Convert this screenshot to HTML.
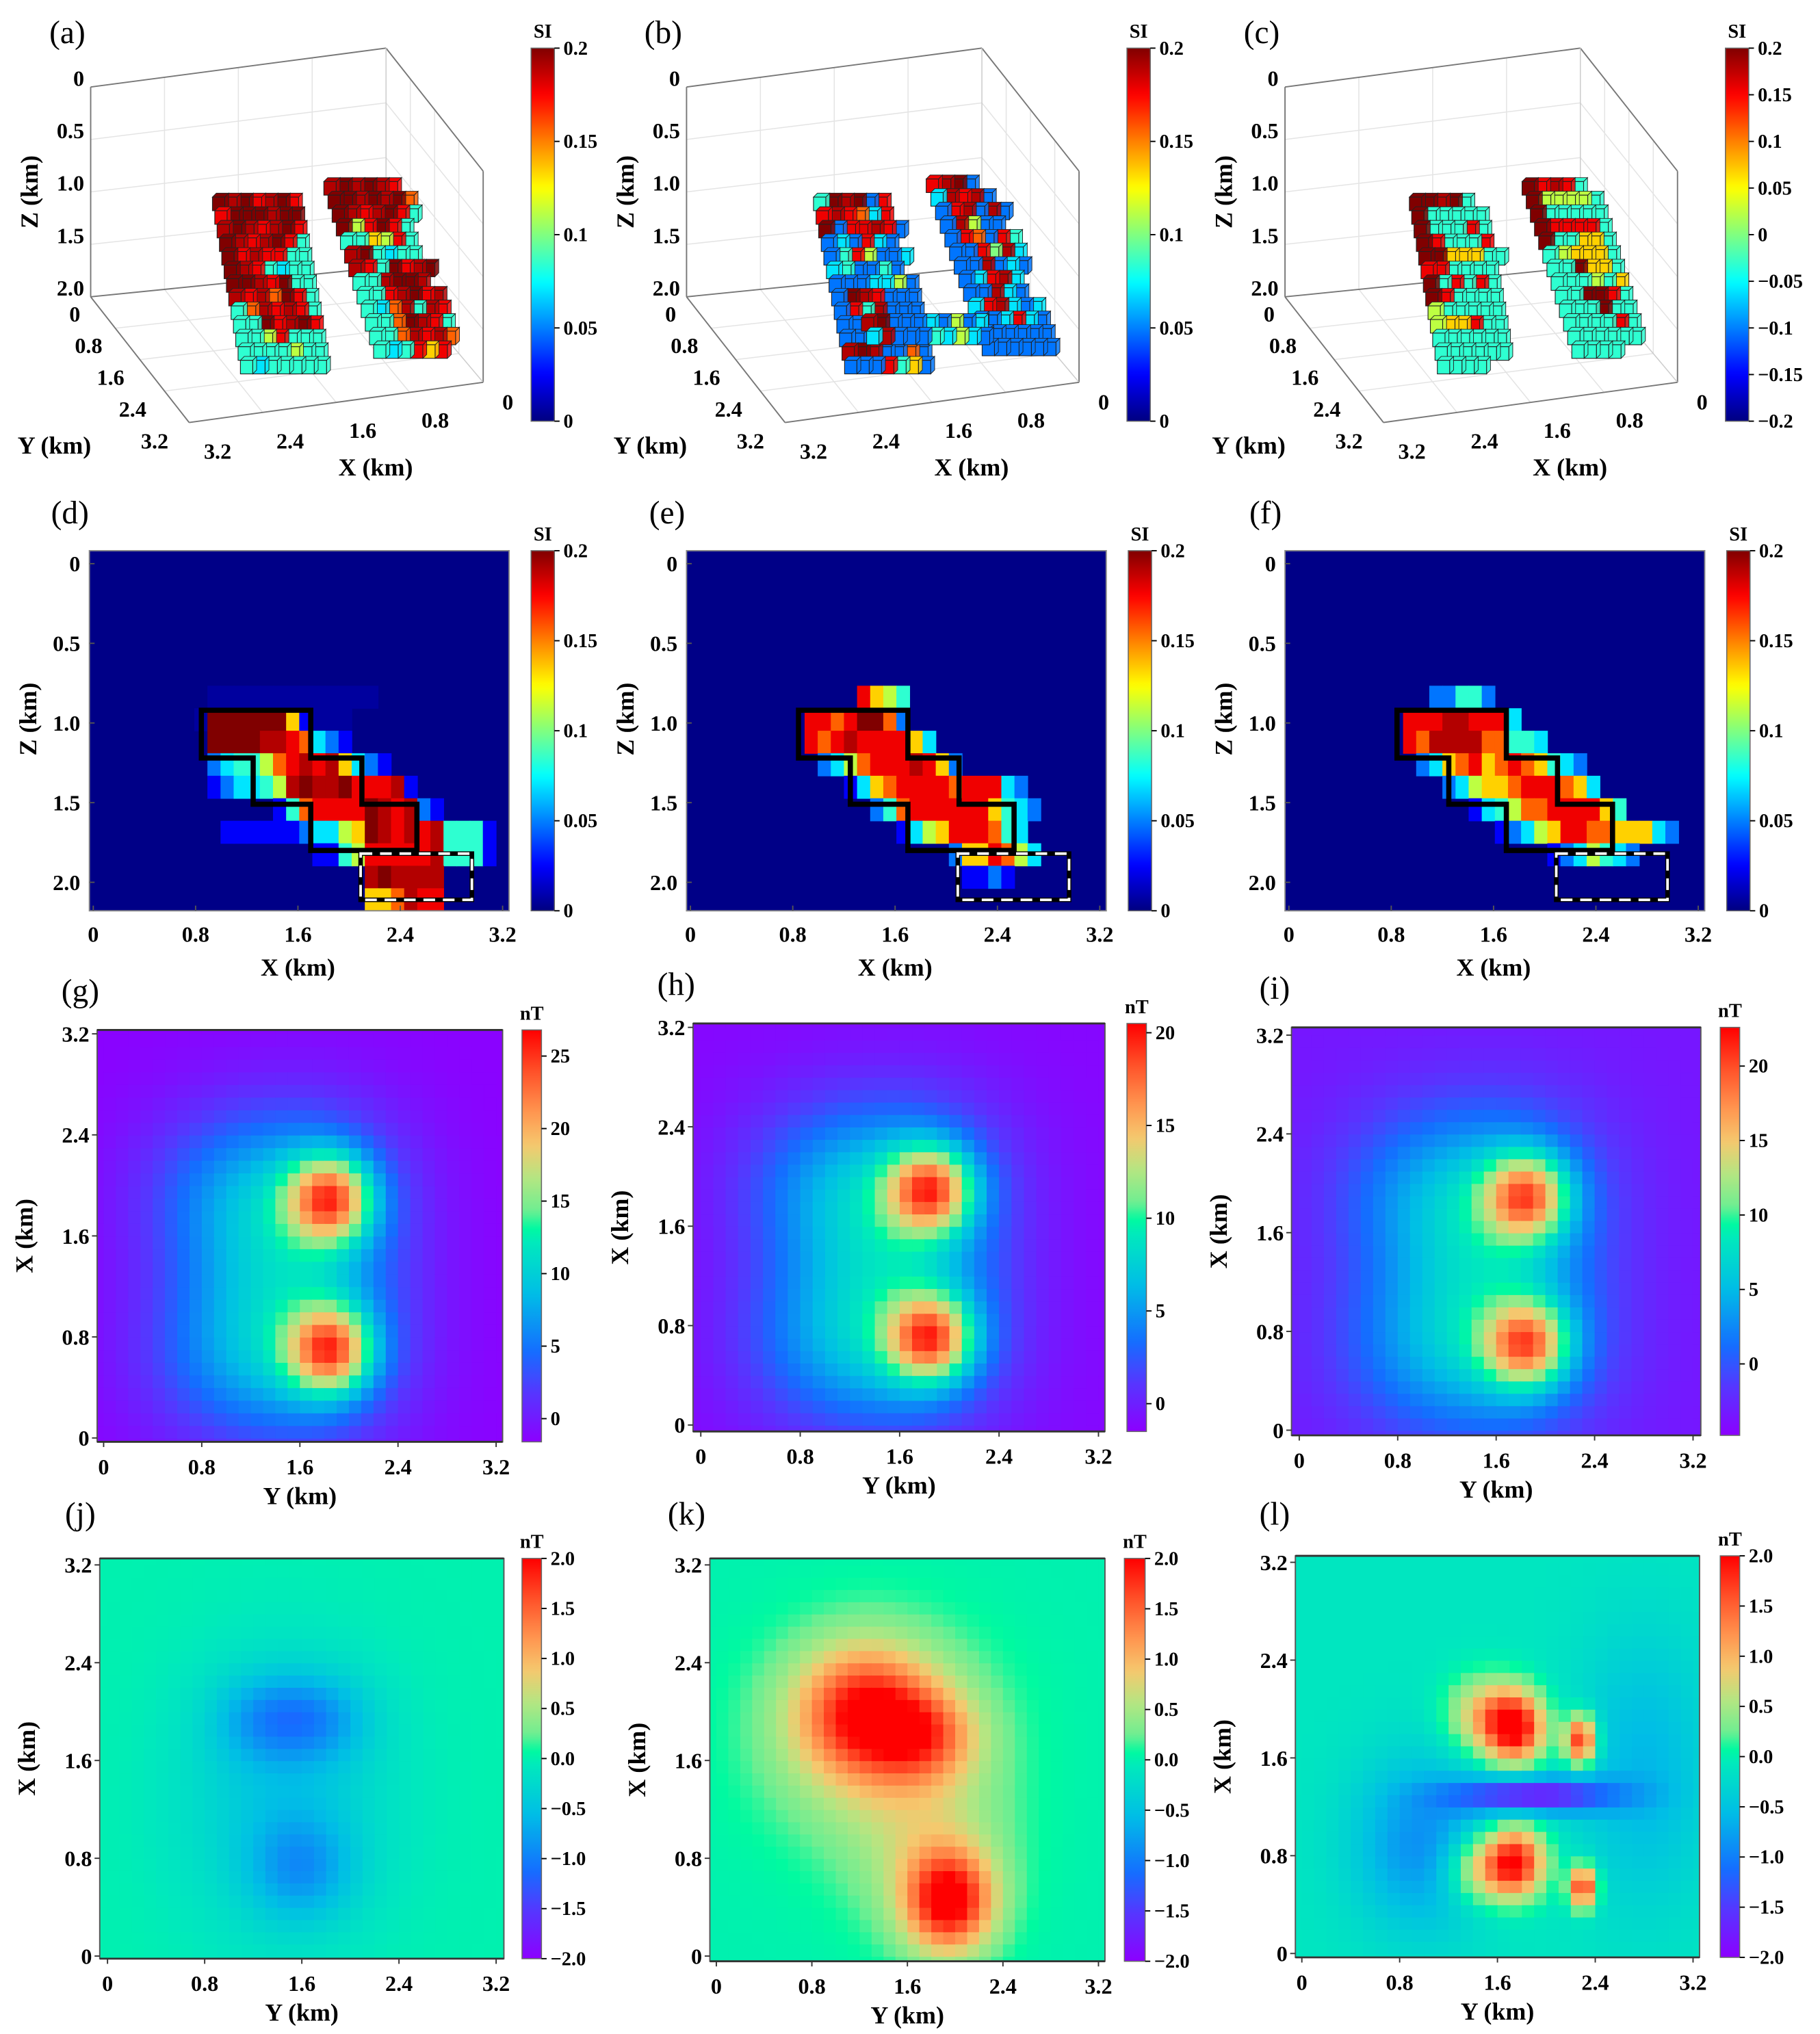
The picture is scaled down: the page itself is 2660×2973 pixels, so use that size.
<!DOCTYPE html>
<html><head><meta charset="utf-8">
<style>
html,body{margin:0;padding:0;background:#fff;}
svg{display:block;}
text{font-family:"Liberation Serif","Times New Roman",serif;}
.tk{font-family:"Liberation Serif",serif;font-weight:bold;font-size:17px;}
.cbt{font-family:"Liberation Serif",serif;font-weight:bold;font-size:15px;}
.at{font-family:"Liberation Serif",serif;font-weight:bold;font-size:19px;}
.pl{font-family:"Liberation Serif",serif;font-size:25px;}
</style></head>
<body>
<svg id="fig" width="2660" height="2973" viewBox="0 0 1405 1570" xmlns="http://www.w3.org/2000/svg">
<defs id="defs"></defs>
</svg>
<script>
// ---------------- DATA ----------------
const secRowsD = ["", "", "", "", "", "", "9:0000000000000", "8:099999961000", "9:9999aa87321", "9:2344578a8a6321", "9:123345a9aa9888a1", "14:14788889a8a21", "10:111111233569a8a8a4441", "17:114588888a4441", "21:a9aaaa", "21:667a88"];
const secRowsE = ["", "", "", "", "", "", "13:8654", "9:88789972", "9:878a888863", "10:2357888a862", "12:13678888788832", "14:2478888886432", "16:1356888743", "20:2668753", "21:1121", ""];
const secRowsF = ["", "", "", "", "", "", "11:22442", "9:888aa8883", "9:87aaaa77443", "10:2367867876432", "12:235667888763", "14:134577888864", "16:12356887766632", "20:1235432", "", ""];
const sectionRows = [secRowsD, secRowsE, secRowsF];
const outlineX = [0.845, 1.70, 1.70, 2.10, 2.10, 2.53, 2.53, 2.10, 2.10, 1.70, 1.70, 1.25, 1.25, 0.845];
const outlineZ = [0.92, 0.92, 1.22, 1.22, 1.51, 1.51, 1.80, 1.80, 1.80, 1.80, 1.51, 1.51, 1.22, 1.22];
const boxX = [2.09, 2.96];
const boxZ = [1.82, 2.11];
const sectionXTicks = ["0", "0.8", "1.6", "2.4", "3.2"];
const sectionZTicks = ["0", "0.5", "1.0", "1.5", "2.0"];
const siTicks = ["0", "0.05", "0.1", "0.15", "0.2"];
const siTicksC = ["-0.2", "-0.15", "-0.1", "-0.05", "0", "0.05", "0.1", "0.15", "0.2"];

const gY = [1.85, 1.85, 1.75, 1.75, 1.0, 1.0, 1.3];
const gX = [1.9, 0.7, 1.9, 0.7, 1.95, 0.65, 1.3];
const gA = [17, 17, 7, 7, 5, 5, 3];
const gSy = [0.24, 0.24, 0.55, 0.55, 0.55, 0.55, 0.55];
const gSx = [0.24, 0.24, 0.55, 0.55, 0.5, 0.5, 0.6];
const gBg = -1.5;
const hA = [13, 13, 5.5, 5.5, 4, 4, 2.3];
const hBg = -1.2;
const iA = [15, 15, 6.3, 6.3, 4.5, 4.5, 2.7];
const iBg = -3.5;
const jY = [1.3, 1.75, 1.6, 1.45];
const jX = [1.95, 1.95, 0.72, 1.3];
const jA = [-0.55, -0.55, -0.6, -0.45];
const jSy = [0.3, 0.3, 0.3, 0.6];
const jSx = [0.25, 0.25, 0.3, 0.8];
const jBg = 0.0;
const kY = [1.25, 1.75, 1.35, 1.95, 1.8];
const kX = [2.0, 1.8, 1.8, 0.45, 0.8];
const kA = [1.5, 0.9, 0.7, 1.9, 0.5];
const kSy = [0.38, 0.3, 0.65, 0.25, 0.45];
const kSx = [0.35, 0.25, 0.6, 0.28, 0.5];
const kBg = 0.0;
const lY = [1.75, 2.28, 1.5, 1.75, 2.3, 1.45, 1.9, 1.0, 2.8];
const lX = [1.85, 1.75, 1.95, 0.75, 0.55, 0.7, 1.3, 0.9, 1.5];
const lA = [2.0, 2.0, 1.0, 2.0, 2.0, 1.0, -1.7, -0.8, -0.5];
const lSy = [0.17, 0.09, 0.22, 0.17, 0.08, 0.2, 0.45, 0.4, 0.4];
const lSx = [0.2, 0.14, 0.22, 0.2, 0.12, 0.2, 0.1, 0.5, 0.8];
const lBg = -0.1;
const mapTicks = ["0", "0.8", "1.6", "2.4", "3.2"];
const gCbTicks = ["0", "5", "10", "15", "20", "25"];
const hCbTicks = ["0", "5", "10", "15", "20"];
const rCbTicks = ["-2.0", "-1.5", "-1.0", "-0.5", "0.0", "0.5", "1.0", "1.5", "2.0"];

const vox = [
 [ {x:164,y:152,dx:1.8,rows:["9a98a98","8999a99","a9a8a98","9a8a984","98a8844","9a84344","99a8944","a8a7984","47a8a84","4498a98","4458444","4444544","4344444"]},
   {x:250,y:140,dx:3.2,rows:["a9a9a8","99a9a97","9a8a984","958984","446584","a94344","a8498a9","44a99a","448a98a","437a4a8","4479a84","447a8a7","434868"]} ],
 [ {x:628,y:152,dx:2.0,rows:["49a928","8a8738","928da82","232832","2485223","342242","2223352","29a8222","284a222","2229a22","222a322","a9a2272","2228462"]},
   {x:715,y:138,dx:3.6,rows:["8a92","3a8a2","28a2a2","2a522","287284","228ga3","22a232","238a3","22a32","38a323","223832","222222","222222"]},
   {x:665,y:245,dx:4,rows:["a922232523","3a22243532"]} ],
 [ {x:1088,y:152,dx:1.8,rows:["99a94","944444","944484","984448","9966644","884444","948484","984444","544444","566844","444444","444444","4444"]},
   {x:1175,y:140,dx:3.2,rows:["98a84","955554","944444","988884","944664","456664","449664","444546","449984","444944","444484","444444","4444"]} ]
];
const voxZTicks = ["0", "0.5", "1.0", "1.5", "2.0"];
const voxYTicks = ["0", "0.8", "1.6", "2.4", "3.2"];
const voxXTicks = ["3.2", "2.4", "1.6", "0.8", "0"];

// ---------------- HELPERS ----------------
const NS = "http://www.w3.org/2000/svg";
const svg = document.getElementById('fig');
const defs = document.getElementById('defs');
function mk(tag, attrs, parent){ const e = document.createElementNS(NS, tag); for (const k in attrs) e.setAttribute(k, attrs[k]); (parent||svg).appendChild(e); return e; }
function txt(s, x, y, cls, anchor, parent){ const t = mk('text', {x:x, y:y, class:cls, 'text-anchor':anchor||'start'}, parent); t.textContent = s; return t; }
function cl(v){ return Math.max(0, Math.min(1, v)); }
function jet(t){ t = cl(t); const r = cl(1.5-Math.abs(4*t-3)), g = cl(1.5-Math.abs(4*t-2)), b = cl(1.5-Math.abs(4*t-1)); return `rgb(${Math.round(r*255)},${Math.round(g*255)},${Math.round(b*255)})`; }
const rbStops = [[0,140,0,255],[0.12,85,55,255],[0.22,20,110,255],[0.36,0,190,230],[0.48,0,232,190],[0.52,0,250,160],[0.56,110,238,145],[0.64,180,230,130],[0.72,245,200,110],[0.8,255,150,80],[0.9,255,80,40],[1,255,0,0]];
function rainbow(t){ t = cl(t); for (let i = 1; i < rbStops.length; i++){ const a = rbStops[i-1], b = rbStops[i]; if (t <= b[0]){ const f = (t-a[0])/(b[0]-a[0]); return `rgb(${Math.round(a[1]+(b[1]-a[1])*f)},${Math.round(a[2]+(b[2]-a[2])*f)},${Math.round(a[3]+(b[3]-a[3])*f)})`; } } return 'rgb(255,0,0)'; }
const charVal = {'.':0,'0':0.03,'1':0.12,'2':0.24,'3':0.35,'4':0.42,'5':0.56,'6':0.67,'7':0.78,'8':0.89,'a':0.95,'9':1.0,'g':0.5,'d':0.9};
let gradId = 0;
function colorbar(x, y, w, h, cmap, ticks, tmin, tmax, title, name){
  const id = 'cbg' + (gradId++);
  const lg = mk('linearGradient', {id:id, x1:0, y1:1, x2:0, y2:0}, defs);
  for (let i = 0; i <= 60; i++) mk('stop', {offset:(i/60), 'stop-color':cmap(i/60)}, lg);
  const g = mk('g', {});
  
  
  mk('rect', {x:x, y:y, width:w, height:h, fill:`url(#${id})`, stroke:'#666', 'stroke-width':0.8}, g);
  ticks.forEach(s => {
    const v = parseFloat(s); const ty = y + h - (v - tmin)/(tmax - tmin)*h;
    mk('line', {x1:x+w, y1:ty, x2:x+w+4, y2:ty, stroke:'#000', 'stroke-width':1}, g);
    const t = txt(s.replace('-', '\u2212'), x+w+7, ty+5, 'cbt', 'start', g);
    
    
  });
  const tt = txt(title, x+w/2, y-8, 'cbt', 'middle', g);
  
  
}
function panelLabel(s, x, y){
  const t = txt(s, x, y, 'pl', 'middle');
  
  
}

// ---------------- ROW 1 ----------------
const offs3 = [0, 460, 922];
const labels3 = ['(a)', '(b)', '(c)'];
offs3.forEach((o, p) => {
  const g = mk('g', {});
  
  
  const A=[70+o,67], B=[298+o,37], C=[373+o,132], A2=[70+o,229], B2=[298+o,206], C2=[373+o,295], D2=[146+o,326];
  const L = (p1,p2,c,w) => mk('line', {x1:p1[0],y1:p1[1],x2:p2[0],y2:p2[1],stroke:c,'stroke-width':w}, g);
  const lerp = (p1,p2,t) => [p1[0]+(p2[0]-p1[0])*t, p1[1]+(p2[1]-p1[1])*t];
  for (let i = 1; i < 4; i++){ const t=i/4; L(lerp(A,A2,t), lerp(B,B2,t), '#e4e4e4', 0.8); L(lerp(B,B2,t), lerp(C,C2,t), '#e4e4e4', 0.8); }
  for (let i = 1; i < 4; i++){ const t=i/4; L(lerp(A,B,t), lerp(A2,B2,t), '#e4e4e4', 0.8); L(lerp(B,C,t), lerp(B2,C2,t), '#e4e4e4', 0.8); L(lerp(A2,D2,t), lerp(B2,C2,t), '#e4e4e4', 0.8); L(lerp(A2,B2,t), lerp(D2,C2,t), '#e4e4e4', 0.8); }
  L(A,B,'#777',1); L(B,C,'#777',1); L(A,A2,'#777',1); L(B,B2,'#ccc',0.8); L(C,C2,'#777',1);
  L(A2,B2,'#777',1); L(B2,C2,'#ccc',0.8); L(A2,D2,'#777',1); L(D2,C2,'#777',1);
  voxZTicks.forEach((s,i) => { const t = txt(s, 65+o, 66 + i*40.5, 'tk', 'end', g);   });
  voxYTicks.forEach((s,i) => { const t = txt(s, 62+o + i*17, 248 + i*24.5, 'tk', 'end', g);   });
  voxXTicks.forEach((s,i) => { const t = txt(s, 168+o + i*56, 354 - i*8 + (i==4?-6:0), 'tk', 'middle', g);   });
  const zt = txt('Z (km)', 0, 0, 'at', 'middle', g); zt.setAttribute('transform', `translate(${29+o},148) rotate(-90)`);
  
  
  const yt = txt('Y (km)', 42+o, 350, 'at', 'middle', g);
  
  
  const xt = txt('X (km)', 290+o, 367, 'at', 'middle', g);
  
  
  vox[p].forEach(b => {
    b.rows.forEach((r, i) => {
      for (let j = r.length-1; j >= 0; j--){
        const ch = r[j]; if (ch === ' ') continue;
        const v = charVal[ch] !== undefined ? charVal[ch] : 0.4;
        const fx = b.x + i*b.dx + j*9.5, fy = b.y + i*10.5;
        const col = jet(v);
        const cube = mk('g', {}, g);
        
        
        mk('polygon', {points:`${fx+9.5},${fy} ${fx+12.5},${fy-3} ${fx+12.5},${fy+7.5} ${fx+9.5},${fy+10.5}`, fill:col, stroke:'#222','stroke-width':0.5, 'fill-opacity':0.85}, cube);
        mk('polygon', {points:`${fx},${fy} ${fx+3},${fy-3} ${fx+12.5},${fy-3} ${fx+9.5},${fy}`, fill:col, stroke:'#222','stroke-width':0.5}, cube);
        mk('rect', {x:fx, y:fy, width:9.5, height:10.5, fill:col, stroke:'#222', 'stroke-width':0.6}, cube);
      }
    });
  });
  colorbar(410+o, 37, 18, 288, jet, p===2 ? siTicksC : siTicks, p===2?-0.2:0, 0.2, 'SI', 'colorbar-' + 'abc'[p]);
  panelLabel(labels3[p], 52+o, 33);
});

// ---------------- ROW 2 ----------------
const secX0 = [72, 533, 995];
const secLabels = ['(d)', '(e)', '(f)'];
const secTop = 425, secBot = 703, nRows = 16, nCols = 32;
sectionRows.forEach((rowsSpec, p) => {
  const x0 = secX0[p];
  const xs = v => x0 + v*98.75;
  const zs = z => 435 + z*123;
  const left = x0 - 3, right = x0 + 321;
  const g = mk('g', {});
  
  
  mk('rect', {x:left, y:secTop, width:right-left, height:secBot-secTop, fill:'rgb(0,0,135)'}, g);
  const cw = (right-left)/nCols, rh = (secBot-secTop)/nRows;
  rowsSpec.forEach((spec, r) => {
    if (!spec) return;
    const [st, vals] = spec.split(':'); const s0 = parseInt(st);
    for (let k = 0; k < vals.length; k++){
      const c = s0 + k; if (c >= nCols) break;
      const cell = mk('rect', {x:left + c*cw, y:secTop + r*rh, width:cw+0.4, height:rh+0.4, fill:jet(charVal[vals[k]])}, g);
      
      
    }
  });
  const pts = outlineX.map((x,i) => `${xs(x)},${zs(outlineZ[i])}`).join(' ');
  const ol = mk('polygon', {points:pts, fill:'none', stroke:'#000', 'stroke-width':4, 'stroke-linejoin':'miter'}, g);
  
  
  mk('rect', {x:xs(boxX[0]), y:zs(boxZ[0]), width:xs(boxX[1])-xs(boxX[0]), height:zs(boxZ[1])-zs(boxZ[0]), fill:'none', stroke:'#000', 'stroke-width':3.5}, g);
  const db = mk('rect', {x:xs(boxX[0]), y:zs(boxZ[0]), width:xs(boxX[1])-xs(boxX[0]), height:zs(boxZ[1])-zs(boxZ[0]), fill:'none', stroke:'#fff', 'stroke-width':2, 'stroke-dasharray':'9 6'}, g);
  
  
  mk('rect', {x:left, y:secTop, width:right-left, height:secBot-secTop, fill:'none', stroke:'#888', 'stroke-width':1}, g);
  sectionXTicks.forEach(s => { const v=parseFloat(s); mk('line',{x1:xs(v),y1:secBot,x2:xs(v),y2:secBot-4,stroke:'#555'},g); const t=txt(s, xs(v), 727, 'tk','middle',g);   });
  sectionZTicks.forEach(s => { const v=parseFloat(s); mk('line',{x1:left,y1:zs(v),x2:left+4,y2:zs(v),stroke:'#555'},g); const t=txt(s, left-7, zs(v)+6, 'tk','end',g);   });
  const xt = txt('X (km)', x0+158, 753, 'at', 'middle', g);
  
  
  const zt = txt('Z (km)', 0, 0, 'at', 'middle', g); zt.setAttribute('transform', `translate(${x0-44},555) rotate(-90)`);
  
  
  colorbar(right+17, secTop, 18, secBot-secTop, jet, siTicks, 0, 0.2, 'SI', 'colorbar-' + 'def'[p]);
  panelLabel(secLabels[p], x0-18, 404);
});

// ---------------- ROWS 3-4 ----------------
const maps = [
 {n:'g', Y:gY, X:gX, A:gA, Sy:gSy, Sx:gSx, bg:gBg, y0:80, y32:383, x0:1110, x32:798, rect:[75,795,388,1113], vmin:-1.6, vmax:26.8, cb:[403,418], ticks:gCbTicks, lab:[62,773]},
 {n:'h', Y:gY, X:gX, A:hA, Sy:gSy, Sx:gSx, bg:hBg, y0:541, y32:848, x0:1100, x32:793, rect:[535,790,853,1105], vmin:-1.5, vmax:20.5, cb:[870,885], ticks:hCbTicks, lab:[522,768]},
 {n:'i', Y:gY, X:gX, A:iA, Sy:gSy, Sx:gSx, bg:iBg, y0:1003, y32:1307, x0:1104, x32:799, rect:[997,793,1313,1108], vmin:-4.8, vmax:22.6, cb:[1328,1343], ticks:hCbTicks, lab:[984,771]},
 {n:'j', Y:jY, X:jX, A:jA, Sy:jSy, Sx:jSx, bg:jBg, y0:83, y32:383, x0:1510, x32:1208, rect:[77,1203,389,1512], vmin:-2, vmax:2, cb:[403,418], ticks:rCbTicks, lab:[62,1177]},
 {n:'k', Y:kY, X:kX, A:kA, Sy:kSy, Sx:kSx, bg:kBg, y0:553, y32:848, x0:1510, x32:1208, rect:[548,1203,853,1514], vmin:-2, vmax:2, cb:[868,884], ticks:rCbTicks, lab:[530,1177]},
 {n:'l', Y:lY, X:lX, A:lA, Sy:lSy, Sx:lSx, bg:lBg, y0:1005, y32:1307, x0:1508, x32:1206, rect:[1000,1201,1312,1511], vmin:-2, vmax:2, cb:[1328,1343], ticks:rCbTicks, lab:[984,1177]}
];
maps.forEach((m) => {
  const ys = v => m.y0 + v*(m.y32-m.y0)/3.2;
  const xs = v => m.x0 + v*(m.x32-m.x0)/3.2;
  const [L,T,R,Bm] = m.rect;
  const g = mk('g', {});
  
  
  const cid = 'clip' + m.n;
  const cp = mk('clipPath', {id:cid}, defs); mk('rect', {x:L, y:T, width:R-L, height:Bm-T}, cp);
  const cells = mk('g', {'clip-path':`url(#${cid})`}, g);
  const step = 0.1;
  for (let yi = 0; yi < 35; yi++){
    for (let xi = 0; xi < 35; xi++){
      const yc = -0.1 + yi*step + step/2, xc = -0.1 + xi*step + step/2;
      let v = m.bg;
      for (let s = 0; s < m.A.length; s++){
        const dy = (yc - m.Y[s])/m.Sy[s], dx = (xc - m.X[s])/m.Sx[s];
        v += m.A[s]*Math.exp(-0.5*(dy*dy + dx*dx));
      }
      const x1 = ys(yc - step/2), x2 = ys(yc + step/2), y1 = xs(xc + step/2), y2 = xs(xc - step/2);
      const c = mk('rect', {x:x1, y:y1, width:x2-x1+0.5, height:y2-y1+0.5, fill:rainbow((v - m.vmin)/(m.vmax - m.vmin))}, cells);
      
      
    }
  }
  mk('rect', {x:L, y:T, width:R-L, height:Bm-T, fill:'none', stroke:'#555', 'stroke-width':1}, g);
  mk('line', {x1:L, y1:T, x2:R, y2:T, stroke:'#333', 'stroke-width':1.5}, g);
  mk('line', {x1:L, y1:Bm, x2:R, y2:Bm, stroke:'#333', 'stroke-width':1.5}, g);
  mapTicks.forEach(s => {
    const v = parseFloat(s);
    mk('line', {x1:ys(v), y1:Bm, x2:ys(v), y2:Bm+4, stroke:'#333'}, g);
    const t = txt(s, ys(v), Bm+25, 'tk', 'middle', g);
    
    
    mk('line', {x1:L, y1:xs(v), x2:L-4, y2:xs(v), stroke:'#333'}, g);
    const t2 = txt(s, L-6, xs(v)+6, 'tk', 'end', g);
    
    
  });
  const yt = txt('Y (km)', (L+R)/2, Bm+48, 'at', 'middle', g);
  
  
  const xt = txt('X (km)', 0, 0, 'at', 'middle', g); xt.setAttribute('transform', `translate(${L-50},${(T+Bm)/2}) rotate(-90)`);
  
  
  colorbar(m.cb[0], T, m.cb[1]-m.cb[0], Bm-T, rainbow, m.ticks, m.vmin, m.vmax, 'nT', 'colorbar-' + m.n);
  panelLabel('(' + m.n + ')', m.lab[0], m.lab[1]);
});
</script>
</body></html>
